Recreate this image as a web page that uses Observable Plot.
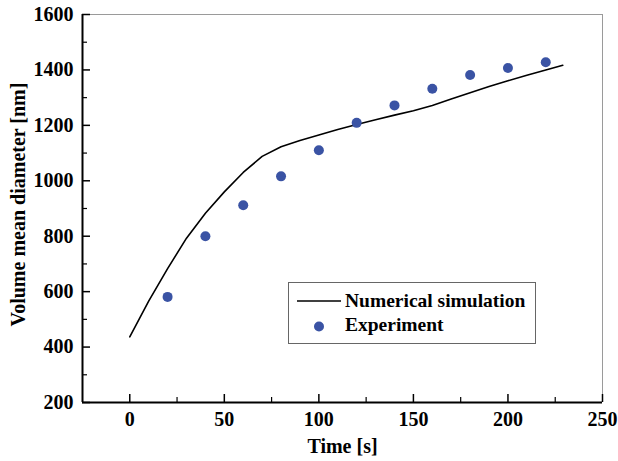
<!DOCTYPE html>
<html>
<head>
<meta charset="utf-8">
<script src="https://cdn.jsdelivr.net/npm/d3@7"></script>
<script src="https://cdn.jsdelivr.net/npm/@observablehq/plot@0.6"></script>
<style>
  html, body { margin: 0; padding: 0; background: white; }
</style>
</head>
<body>
<div id="chart"></div>
<script>
// Numerical simulation (line)
const simTime = [0, 10, 20, 30, 40, 50, 60, 70, 80, 90, 100, 110, 120, 130, 140, 150, 160, 170, 180, 190, 200, 210, 220, 229];
const simDiameter = [437, 566, 683, 793, 883, 960, 1030, 1088, 1123, 1145, 1165, 1185, 1203, 1220, 1237, 1253, 1272, 1295, 1318, 1340, 1361, 1381, 1400, 1417];
// Experiment (points)
const expTime = [20, 40, 60, 80, 100, 120, 140, 160, 180, 200, 220];
const expDiameter = [581, 800, 912, 1016, 1110, 1209, 1272, 1332, 1382, 1407, 1428];
// Ticks
const xTicks = [0, 50, 100, 150, 200, 250];
const xMinor = [25, 75, 125, 175, 225];
const yTicks = [200, 400, 600, 800, 1000, 1200, 1400, 1600];
const yMinor = [300, 500, 700, 900, 1100, 1300, 1500];
const seriesNames = ["Numerical simulation", "Experiment"];

const sim = simTime.map((t, i) => ({t, d: simDiameter[i]}));
const exp = expTime.map((t, i) => ({t, d: expDiameter[i]}));

const W = 618, H = 461;
const mL = 82, mR = 16, mT = 14, mB = 59;
const innerW = W - mL - mR, innerH = H - mT - mB;
const dotColor = "#3a53a4";
const font = "'Liberation Serif', 'Times New Roman', serif";

const chart = Plot.plot({
  width: W, height: H,
  marginLeft: mL, marginRight: mR, marginTop: mT, marginBottom: mB,
  x: {domain: [-25, 250]},
  y: {domain: [200, 1600]},
  style: {fontFamily: font, fontWeight: "bold", fontSize: "20px", color: "black", background: "white"},
  marks: [
    Plot.axisX({ticks: xTicks, tickSize: 0, tickPadding: 9, fontSize: 20, label: null, tickFormat: d => String(d)}),
    Plot.axisY({ticks: yTicks, tickSize: 0, tickPadding: 9, fontSize: 20, label: null, tickFormat: d => String(d)}),
    // frame: top & right grey
    Plot.ruleY([1600], {stroke: "#9a9a9a", strokeWidth: 1}),
    Plot.ruleX([250], {stroke: "#9a9a9a", strokeWidth: 1}),
    // inward ticks
    Plot.tickX(xTicks, {x: d => d, insetTop: innerH - 8, stroke: "black", strokeWidth: 1.5}),
    Plot.tickX(xMinor, {x: d => d, insetTop: innerH - 5, stroke: "black", strokeWidth: 1.2}),
    Plot.tickY(yTicks, {y: d => d, insetRight: innerW - 8, stroke: "black", strokeWidth: 1.5}),
    Plot.tickY(yMinor, {y: d => d, insetRight: innerW - 5, stroke: "black", strokeWidth: 1.2}),
    // frame: left & bottom black
    Plot.ruleX([-25], {stroke: "black", strokeWidth: 2}),
    Plot.ruleY([200], {stroke: "black", strokeWidth: 2}),
    // data
    Plot.line(sim, {x: "t", y: "d", stroke: "black", strokeWidth: 1.6}),
    Plot.dot(exp, {x: "t", y: "d", r: 5, fill: dotColor, stroke: "none"}),
    // axis titles
    Plot.text(["Time [s]"], {frameAnchor: "bottom", dy: 50, text: d => d, fontSize: 20, fontWeight: "bold", fill: "black", textAnchor: "middle"}),
    Plot.text(["Volume mean diameter [nm]"], {frameAnchor: "left", dx: -64, dy: -4, rotate: -90, text: d => d, fontSize: 20, fontWeight: "bold", fill: "black", textAnchor: "middle"})
  ]
});

document.getElementById("chart").appendChild(chart);

// Legend drawn into the SVG
const svg = d3.select(chart);
const lg = svg.append("g").attr("font-family", font).attr("font-weight", "bold").attr("font-size", 19.5).attr("text-anchor", "start");
lg.append("rect").attr("x", 288.5).attr("y", 282.5).attr("width", 247).attr("height", 61)
  .attr("fill", "white").attr("stroke", "#666").attr("stroke-width", 1);
lg.append("line").attr("x1", 297).attr("x2", 341).attr("y1", 301).attr("y2", 301)
  .attr("stroke", "black").attr("stroke-width", 1.6);
lg.append("circle").attr("cx", 319).attr("cy", 326.5).attr("r", 5).attr("fill", dotColor);
lg.append("text").attr("x", 345).attr("y", 307).attr("fill", "black").text(seriesNames[0]);
lg.append("text").attr("x", 345).attr("y", 331).attr("fill", "black").text(seriesNames[1]);
</script>
</body>
</html>
